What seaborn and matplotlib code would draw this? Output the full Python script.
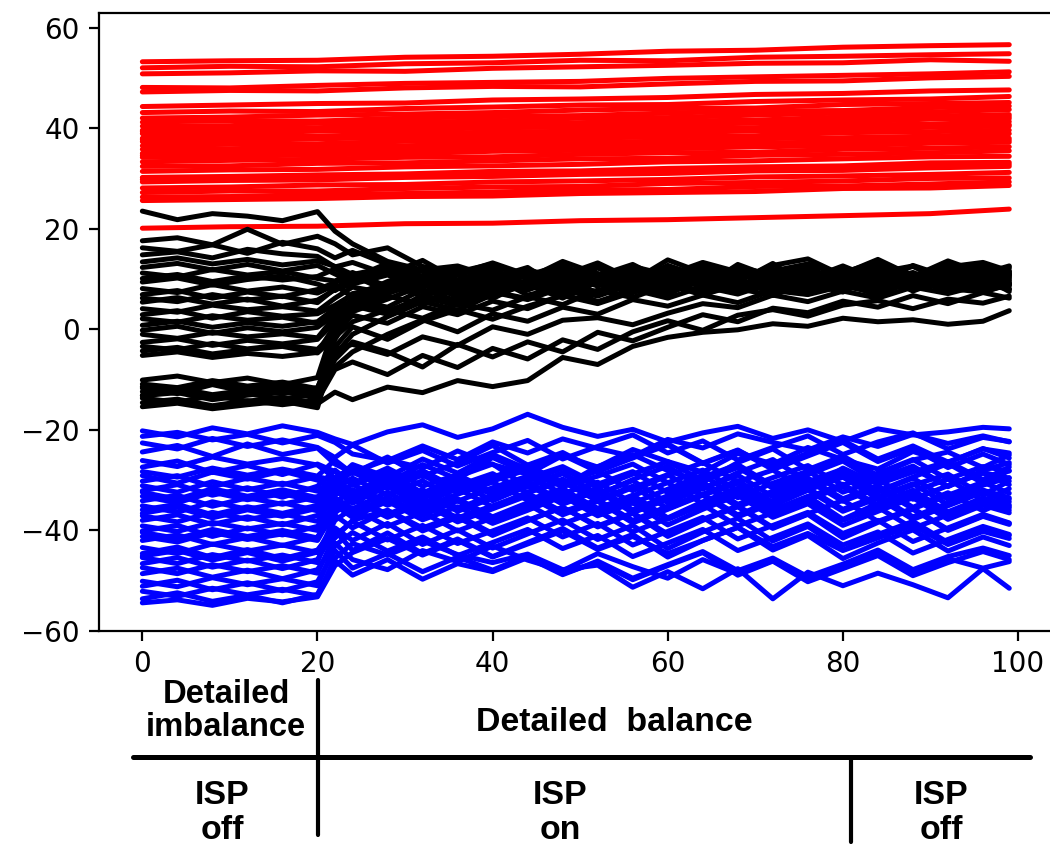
import matplotlib
matplotlib.use("Agg")
import matplotlib.pyplot as plt
from matplotlib.lines import Line2D
import pandas as pd
import seaborn as sns

# =============================================================================
# DATOS
# =============================================================================
X_RED = [0, 10, 20, 30, 40, 50, 60, 70, 80, 90, 99]
# rejilla de pasos para las trazas negras y azules (0-20 ISP off, luego ISP on)
X_TRACE = [0, 4, 8, 12, 16, 20, 22, 24, 28, 32, 36, 40, 44, 48, 52, 56, 60,
           64, 68, 72, 76, 80, 84, 88, 92, 96, 99]

RED = [
    [53.2, 53.4, 53.5, 54.1, 54.3, 54.7, 55.3, 55.5, 56.1, 56.4, 56.6],
    [52.0, 52.3, 52.2, 52.8, 53.0, 53.5, 53.4, 54.1, 54.3, 54.6, 54.8],
    [50.8, 51.0, 51.4, 51.3, 51.9, 52.2, 52.5, 52.9, 53.0, 53.6, 53.3],
    [48.1, 48.0, 48.5, 48.9, 49.1, 49.3, 49.9, 50.2, 50.5, 50.8, 51.2],
    [47.2, 47.5, 47.4, 48.0, 48.3, 48.2, 48.8, 49.3, 49.4, 50.0, 50.3],
    [44.3, 44.6, 44.9, 45.0, 45.6, 45.8, 46.1, 46.7, 46.9, 47.4, 47.6],
    [43.1, 43.4, 43.3, 43.9, 44.2, 44.6, 44.7, 45.3, 45.6, 45.8, 46.3],
    [42.0, 42.2, 42.6, 42.8, 43.1, 43.6, 43.9, 44.0, 44.7, 44.9, 45.1],
    [41.2, 41.5, 41.4, 42.0, 42.3, 42.5, 43.0, 43.4, 43.5, 44.1, 44.4],
    [40.4, 40.5, 41.0, 41.2, 41.4, 42.0, 42.1, 42.6, 43.0, 43.2, 43.7],
    [39.6, 39.9, 40.1, 40.5, 40.7, 41.1, 41.4, 41.6, 42.2, 42.4, 42.7],
    [39.3, 39.5, 39.8, 40.2, 40.3, 40.8, 41.1, 41.3, 41.8, 42.1, 42.3],
    [38.9, 39.0, 39.4, 39.6, 40.1, 40.2, 40.7, 41.0, 41.2, 41.8, 41.9],
    [38.0, 38.3, 38.4, 38.9, 39.2, 39.4, 39.9, 40.1, 40.6, 40.8, 41.3],
    [37.7, 37.9, 38.2, 38.4, 38.9, 39.0, 39.5, 39.8, 40.0, 40.5, 40.7],
    [37.3, 37.4, 37.9, 38.1, 38.3, 38.8, 39.0, 39.5, 39.6, 40.2, 40.4],
    [36.5, 36.8, 36.9, 37.4, 37.6, 38.0, 38.3, 38.5, 39.1, 39.3, 39.6],
    [35.8, 35.9, 36.3, 36.5, 36.9, 37.2, 37.4, 37.9, 38.1, 38.4, 38.9],
    [35.0, 35.3, 35.4, 35.9, 36.1, 36.4, 36.8, 37.0, 37.3, 37.8, 38.0],
    [34.6, 34.8, 35.1, 35.4, 35.6, 36.1, 36.3, 36.6, 37.1, 37.3, 37.6],
    [34.2, 34.4, 34.7, 34.9, 35.4, 35.6, 35.9, 36.3, 36.5, 37.0, 37.2],
    [33.3, 33.6, 33.8, 34.2, 34.3, 34.8, 35.1, 35.2, 35.8, 36.0, 36.3],
    [32.4, 32.5, 33.0, 33.1, 33.5, 33.9, 34.0, 34.6, 34.8, 35.1, 35.5],
    [31.4, 31.7, 31.8, 32.3, 32.5, 32.8, 33.3, 33.5, 33.9, 34.3, 34.4],
    [30.2, 30.4, 30.7, 30.9, 31.4, 31.5, 32.0, 32.3, 32.5, 33.1, 33.2],
    [29.8, 30.0, 30.3, 30.6, 30.8, 31.2, 31.5, 31.7, 32.2, 32.4, 32.8],
    [29.3, 29.6, 29.7, 30.2, 30.4, 30.8, 31.0, 31.5, 31.6, 32.1, 32.4],
    [28.1, 28.3, 28.7, 28.8, 29.3, 29.5, 29.8, 30.3, 30.5, 30.8, 31.2],
    [27.2, 27.5, 27.5, 28.0, 28.3, 28.4, 29.0, 29.2, 29.5, 30.0, 30.1],
    [26.3, 26.4, 26.8, 27.0, 27.3, 27.7, 27.8, 28.4, 28.5, 28.9, 29.3],
    [25.6, 25.8, 26.0, 26.4, 26.5, 27.0, 27.2, 27.4, 28.0, 28.1, 28.6],
    [20.1, 20.4, 20.5, 21.0, 21.1, 21.6, 21.8, 22.2, 22.6, 23.0, 23.9],
]

BLACK = [
    [23.5, 21.8, 23.0, 22.5, 21.6, 23.4, 19.5, 17.0, 13.5, 11.8, 12.6, 10.4, 11.9, 9.8, 12.2, 10.6, 11.5, 9.9, 12.4, 10.8, 11.1, 9.5, 12.0, 10.3, 11.4, 9.8, 11.2],
    [17.6, 18.2, 16.8, 19.9, 16.9, 18.5, 17.0, 14.8, 16.2, 12.5, 11.0, 13.2, 10.8, 12.7, 9.6, 11.8, 10.2, 12.9, 10.5, 11.6, 13.0, 10.9, 12.3, 9.7, 11.5, 12.8, 10.6],
    [16.2, 15.5, 16.8, 15.1, 17.3, 16.0, 14.2, 15.7, 12.9, 10.5, 12.1, 9.4, 11.3, 10.7, 8.8, 12.0, 9.7, 11.2, 8.9, 10.4, 9.2, 11.9, 10.0, 8.7, 10.9, 9.5, 10.2],
    [14.8, 15.4, 14.2, 15.9, 15.0, 14.5, 12.4, 13.3, 10.9, 13.7, 9.8, 11.6, 8.9, 12.4, 10.3, 9.1, 12.7, 10.4, 11.8, 9.0, 12.2, 8.6, 11.3, 12.6, 9.4, 11.0, 12.1],
    [13.4, 14.2, 13.0, 13.9, 12.8, 13.6, 12.5, 10.9, 12.3, 9.6, 11.4, 13.0, 10.5, 11.8, 9.3, 12.5, 10.8, 13.3, 11.4, 9.9, 12.8, 11.0, 13.9, 10.6, 12.4, 13.3, 11.6],
    [12.3, 13.1, 11.8, 12.9, 11.6, 12.7, 11.0, 9.4, 12.0, 8.7, 10.8, 7.9, 11.1, 9.5, 12.3, 8.4, 10.1, 11.7, 8.2, 10.9, 9.6, 12.4, 8.8, 10.5, 11.8, 8.1, 9.7],
    [11.2, 10.4, 11.9, 10.8, 11.5, 10.1, 9.6, 11.3, 8.5, 10.6, 12.4, 9.2, 7.8, 10.9, 8.6, 11.4, 9.3, 7.5, 10.7, 12.0, 8.3, 9.9, 11.1, 7.6, 10.2, 12.2, 8.9],
    [10.1, 10.9, 9.5, 10.6, 9.8, 10.5, 12.0, 10.2, 13.1, 11.5, 9.3, 12.8, 10.1, 13.5, 11.0, 9.6, 13.8, 11.2, 9.8, 12.7, 14.0, 10.7, 12.9, 10.5, 13.6, 11.1, 12.6],
    [9.4, 10.2, 8.8, 9.9, 10.6, 9.0, 7.7, 9.8, 11.2, 7.4, 9.6, 12.1, 8.7, 10.4, 7.2, 9.8, 11.5, 8.6, 10.0, 7.1, 11.2, 9.1, 7.9, 10.6, 8.4, 11.6, 9.2],
    [8.1, 7.3, 8.9, 7.6, 8.4, 7.2, 8.8, 6.4, 9.5, 11.7, 8.0, 10.2, 12.3, 7.8, 9.9, 8.5, 12.6, 9.6, 8.1, 11.4, 9.0, 7.4, 10.8, 12.5, 9.3, 7.8, 10.6],
    [6.9, 7.7, 6.2, 7.4, 6.5, 7.9, 9.3, 10.7, 7.6, 9.1, 6.8, 8.8, 10.9, 7.0, 11.1, 8.2, 6.9, 10.5, 12.2, 8.0, 10.3, 11.8, 7.3, 9.2, 12.8, 10.4, 7.5],
    [6.2, 5.5, 6.9, 5.8, 6.6, 5.3, 8.1, 10.4, 8.7, 12.1, 9.5, 11.2, 8.3, 10.7, 13.2, 9.9, 11.6, 8.4, 12.9, 10.3, 8.0, 11.3, 13.4, 10.1, 8.7, 12.5, 11.0],
    [5.4, 6.3, 5.0, 6.0, 4.6, 5.8, 7.9, 9.0, 10.8, 8.3, 11.5, 7.4, 9.3, 11.8, 8.7, 10.3, 7.8, 11.6, 9.4, 13.1, 8.5, 10.6, 12.9, 8.9, 10.1, 13.0, 11.4],
    [4.1, 3.4, 4.8, 3.9, 4.5, 3.6, 6.2, 8.4, 7.1, 9.6, 8.2, 11.0, 7.9, 9.8, 12.3, 9.0, 10.8, 8.3, 11.4, 7.9, 10.6, 12.2, 9.5, 11.3, 8.6, 10.0, 12.4],
    [2.9, 3.7, 2.2, 3.5, 2.6, 3.1, 4.8, 6.9, 9.2, 6.5, 8.9, 10.4, 6.8, 8.4, 10.6, 7.3, 9.6, 12.1, 8.8, 10.3, 7.7, 9.4, 11.7, 7.9, 10.5, 8.7, 9.9],
    [2.1, 1.4, 2.7, 1.8, 2.4, 1.2, 3.5, 5.8, 4.4, 7.9, 5.6, 8.2, 9.6, 7.0, 9.4, 11.1, 8.0, 10.2, 7.4, 9.9, 11.5, 8.3, 10.7, 9.0, 12.0, 8.4, 10.9],
    [0.8, 1.6, 0.4, 1.3, 0.6, 1.5, 4.2, 7.1, 8.5, 10.3, 7.2, 9.4, 11.0, 8.6, 7.5, 10.4, 12.2, 9.1, 11.3, 8.7, 10.0, 12.6, 9.8, 7.9, 10.9, 11.8, 9.1],
    [-0.2, 0.6, -0.8, 0.3, -0.5, 0.4, 3.0, 5.2, 3.6, 6.3, 4.8, 7.4, 5.9, 8.3, 6.6, 9.0, 7.1, 9.8, 8.1, 6.7, 9.4, 7.8, 10.5, 8.0, 9.2, 7.4, 9.0],
    [-1.0, -1.8, -0.6, -1.5, -0.9, -1.7, 2.6, 6.0, 7.9, 9.5, 6.4, 8.8, 10.7, 7.6, 9.3, 12.0, 8.9, 10.2, 7.3, 11.4, 9.7, 8.2, 11.0, 9.5, 7.8, 10.3, 8.8],
    [-2.6, -1.9, -3.2, -2.2, -2.9, -2.0, 1.5, 4.7, 3.0, 6.8, 4.9, 7.5, 6.1, 8.4, 5.5, 7.8, 9.6, 6.9, 8.8, 10.5, 7.4, 9.3, 6.7, 9.9, 8.6, 10.8, 7.9],
    [-3.4, -4.1, -2.8, -3.9, -3.1, -4.0, -0.5, 2.8, 1.2, 4.5, 2.9, 5.6, 4.1, 6.8, 5.3, 7.9, 6.2, 8.5, 7.0, 9.3, 7.6, 10.1, 8.4, 9.0, 10.6, 8.2, 9.5],
    [-4.3, -3.6, -4.9, -4.0, -3.4, -4.7, -1.5, 1.5, 3.9, 2.2, 5.1, 3.8, 6.5, 4.9, 7.8, 6.3, 8.9, 7.4, 9.8, 8.2, 7.0, 9.6, 8.5, 10.8, 7.7, 9.2, 8.0],
    [-5.2, -4.5, -5.6, -4.8, -5.4, -4.6, 0.8, 4.9, 7.3, 9.0, 6.6, 10.2, 8.1, 11.2, 8.9, 7.3, 10.6, 12.4, 9.2, 7.8, 10.9, 8.7, 12.1, 10.0, 8.3, 11.6, 10.8],
    [-10.1, -9.3, -10.6, -9.7, -11.0, -9.6, 1.0, 5.5, 8.2, 10.1, 7.5, 9.8, 11.3, 8.9, 10.6, 12.9, 9.4, 11.5, 8.6, 10.8, 12.3, 9.2, 11.7, 10.4, 8.9, 12.1, 10.3],
    [-10.9, -11.6, -10.2, -11.3, -10.5, -11.8, -2.0, 3.5, 6.0, 8.7, 10.9, 8.0, 9.7, 12.4, 9.5, 8.2, 10.9, 9.3, 12.0, 8.5, 10.2, 11.9, 9.0, 12.7, 10.4, 9.2, 11.5],
    [-11.4, -12.3, -10.8, -12.0, -11.2, -12.5, -5.0, -1.0, 2.5, 5.5, 3.8, 6.9, 8.8, 6.2, 9.5, 7.7, 10.4, 8.9, 11.6, 9.1, 10.7, 8.5, 11.3, 9.8, 12.2, 10.1, 11.0],
    [-11.7, -12.8, -11.0, -12.5, -11.9, -12.9, 0.0, 4.2, 6.6, 5.0, 8.3, 6.1, 9.5, 7.8, 10.7, 8.3, 11.2, 9.0, 7.6, 10.5, 8.8, 11.8, 9.4, 7.9, 11.0, 9.7, 8.5],
    [-12.4, -11.7, -13.0, -12.1, -12.8, -11.6, -4.0, -3.0, -5.0, -1.5, -3.2, 0.5, -1.0, 1.8, 2.3, 0.9, 3.2, 5.1, 4.3, 6.8, 5.5, 7.6, 6.2, 8.4, 7.1, 8.9, 8.0],
    [-13.1, -12.4, -13.6, -12.8, -13.9, -12.9, -6.0, -2.5, -4.5, -7.5, -3.0, -5.5, -2.5, -4.5, -0.6, -2.3, 0.4, 2.9, 1.5, 4.2, 3.3, 5.6, 4.4, 6.7, 5.1, 7.3, 6.2],
    [-13.2, -12.6, -14.0, -13.1, -12.4, -13.7, -7.5, -4.5, -1.0, 1.9, -0.5, 3.1, 1.6, 4.4, 3.0, 5.9, 4.6, 6.8, 5.3, 7.7, 6.9, 8.6, 7.2, 9.5, 8.1, 7.4, 8.9],
    [-13.7, -14.5, -13.2, -14.3, -13.5, -14.8, -12.5, -14.0, -11.5, -12.6, -10.2, -11.4, -10.2, -5.6, -7.0, -3.4, -1.6, -0.6, -0.1, 1.1, 0.6, 2.2, 1.5, 1.9, 1.0, 1.6, 3.7],
    [-14.6, -13.9, -15.2, -14.2, -15.0, -14.1, -8.0, -6.5, -9.0, -5.2, -7.6, -3.8, -5.9, -2.1, -4.0, -0.5, 1.7, -0.2, 2.8, 3.9, 2.6, 4.8, 5.7, 4.1, 6.0, 5.2, 6.6],
    [-15.4, -14.7, -15.8, -15.0, -14.3, -15.6, -3.5, 0.5, -2.0, 1.6, 3.9, 2.0, 4.6, 6.7, 5.1, 7.4, 8.9, 6.8, 9.3, 7.5, 10.0, 8.4, 9.6, 11.1, 8.3, 10.2, 9.1],
]

BLUE = [
    [-20.2, -21.4, -19.6, -20.8, -19.2, -20.5, -21.8, -22.9, -20.4, -19.0, -21.5, -19.8, -16.9, -19.5, -21.3, -19.9, -22.4, -20.6, -19.3, -21.7, -20.0, -22.3, -19.8, -21.0, -20.4, -19.5, -19.8],
    [-21.3, -20.5, -22.0, -20.9, -22.6, -21.1, -22.5, -24.8, -26.1, -23.2, -25.9, -22.4, -24.6, -21.8, -23.7, -25.3, -21.9, -23.6, -20.8, -22.5, -24.0, -21.4, -23.3, -20.9, -22.7, -21.2, -22.4],
    [-22.6, -23.8, -21.7, -23.3, -22.0, -23.5, -25.5, -23.0, -26.6, -24.1, -27.2, -24.5, -22.1, -25.8, -23.3, -21.0, -24.6, -22.2, -26.0, -23.5, -21.2, -24.9, -22.4, -20.6, -23.8, -21.5, -22.3],
    [-24.4, -23.1, -25.3, -22.8, -24.9, -23.6, -26.8, -28.5, -25.9, -27.6, -24.2, -26.9, -28.8, -25.1, -27.4, -23.9, -26.3, -28.4, -24.7, -26.8, -23.5, -25.9, -27.8, -24.3, -26.5, -23.7, -25.6],
    [-26.1, -27.3, -25.4, -26.8, -25.7, -27.0, -29.6, -27.4, -30.5, -26.9, -29.8, -25.5, -28.6, -31.2, -27.3, -24.9, -28.1, -30.4, -26.5, -23.8, -27.9, -25.2, -29.1, -26.0, -24.4, -27.5, -25.0],
    [-27.4, -26.2, -28.5, -27.1, -28.9, -26.8, -28.3, -31.0, -28.2, -32.6, -29.3, -26.8, -31.4, -28.7, -33.0, -29.9, -27.2, -31.8, -28.5, -25.9, -30.3, -27.8, -32.2, -29.4, -26.7, -30.6, -28.1],
    [-28.3, -29.4, -27.6, -29.0, -27.8, -29.2, -26.0, -28.7, -25.4, -29.3, -26.5, -23.1, -27.0, -24.5, -28.1, -25.4, -22.8, -26.6, -24.0, -27.9, -25.2, -22.5, -26.3, -23.7, -27.5, -24.8, -26.9],
    [-29.1, -30.6, -28.4, -29.8, -28.2, -30.0, -31.4, -33.5, -29.8, -32.9, -30.4, -34.1, -31.2, -28.5, -32.8, -30.1, -34.5, -31.6, -29.0, -33.3, -30.7, -28.3, -32.4, -29.6, -33.8, -31.0, -29.5],
    [-30.2, -29.1, -31.3, -29.6, -30.9, -29.3, -30.1, -27.8, -30.9, -28.1, -31.7, -29.4, -27.0, -30.6, -28.2, -32.1, -29.1, -26.5, -30.3, -28.0, -31.9, -27.6, -30.8, -28.4, -26.3, -29.9, -27.4],
    [-31.1, -32.4, -30.3, -31.9, -30.6, -32.2, -29.5, -32.4, -29.8, -33.6, -31.1, -28.7, -32.5, -30.3, -34.2, -31.5, -28.9, -33.0, -30.6, -35.1, -32.0, -29.4, -33.7, -31.0, -28.8, -32.9, -30.2],
    [-32.1, -30.9, -33.0, -31.5, -33.4, -31.2, -28.0, -30.7, -27.6, -31.2, -28.9, -32.4, -29.6, -27.3, -30.8, -28.3, -32.5, -29.4, -26.9, -31.1, -28.6, -25.4, -29.7, -27.2, -31.3, -28.1, -26.5],
    [-32.4, -33.8, -31.7, -33.2, -31.9, -33.5, -30.0, -26.9, -29.4, -25.8, -28.6, -24.9, -27.8, -25.0, -28.3, -25.6, -23.0, -26.7, -24.1, -27.5, -24.6, -22.1, -25.8, -23.2, -26.4, -23.8, -24.6],
    [-33.2, -34.5, -32.4, -33.9, -32.7, -34.3, -31.0, -33.8, -30.2, -34.6, -31.7, -35.3, -32.4, -29.8, -33.9, -31.2, -35.7, -32.8, -30.1, -34.4, -31.5, -29.0, -33.3, -30.7, -34.9, -32.0, -33.5],
    [-34.1, -33.0, -35.2, -33.5, -34.8, -33.3, -30.5, -28.4, -31.7, -29.0, -32.5, -30.2, -27.9, -31.3, -29.2, -26.8, -30.5, -28.0, -32.1, -29.5, -27.1, -31.0, -28.6, -25.9, -29.8, -27.3, -28.2],
    [-35.1, -36.4, -34.3, -35.8, -34.5, -36.1, -32.0, -34.6, -31.2, -35.4, -32.8, -30.4, -34.0, -31.6, -36.2, -33.1, -30.5, -34.7, -31.9, -36.5, -33.4, -30.8, -35.0, -32.3, -29.8, -34.1, -31.7],
    [-35.9, -34.8, -36.9, -35.3, -36.6, -35.0, -31.5, -29.6, -33.0, -30.1, -34.2, -31.5, -29.2, -32.7, -30.4, -34.6, -31.8, -29.0, -33.5, -30.6, -28.2, -32.4, -29.9, -33.8, -31.1, -28.6, -30.9],
    [-36.6, -35.4, -37.5, -35.9, -37.2, -35.6, -30.0, -32.8, -28.9, -33.1, -29.7, -32.9, -30.2, -27.6, -31.5, -28.8, -26.3, -30.1, -27.5, -31.6, -28.9, -26.2, -30.4, -27.8, -31.2, -28.5, -29.6],
    [-37.1, -38.3, -36.4, -37.8, -36.7, -38.2, -33.0, -30.8, -34.5, -31.9, -35.6, -33.0, -30.3, -34.3, -31.5, -35.9, -33.1, -30.4, -34.8, -32.2, -29.6, -33.7, -31.1, -35.4, -32.5, -36.1, -33.8],
    [-38.0, -36.9, -38.8, -37.3, -38.9, -37.0, -33.5, -35.7, -32.4, -36.1, -33.7, -37.3, -34.5, -31.9, -35.6, -33.0, -37.5, -34.3, -31.6, -35.9, -33.2, -37.8, -34.6, -32.0, -36.3, -33.5, -35.2],
    [-39.1, -40.2, -38.4, -39.7, -38.6, -40.0, -34.5, -31.9, -35.0, -32.3, -36.2, -33.6, -30.9, -34.8, -32.1, -36.5, -33.8, -31.0, -35.3, -32.7, -30.1, -34.2, -31.6, -35.7, -33.0, -30.4, -32.6],
    [-40.1, -39.0, -41.2, -39.5, -40.9, -39.2, -35.0, -37.4, -34.2, -37.9, -35.3, -38.6, -36.0, -33.2, -37.1, -34.5, -38.9, -35.8, -33.0, -37.4, -34.7, -39.0, -36.2, -33.5, -37.8, -35.0, -36.5],
    [-40.4, -41.6, -39.8, -41.2, -40.0, -41.5, -34.0, -36.6, -33.4, -37.0, -34.1, -37.9, -35.2, -32.5, -36.4, -33.7, -37.8, -34.9, -32.2, -36.6, -33.9, -31.3, -35.4, -32.8, -36.9, -34.2, -35.5],
    [-41.2, -42.3, -40.4, -41.8, -40.7, -42.0, -36.0, -33.4, -36.8, -34.0, -37.5, -35.1, -32.6, -36.3, -33.9, -38.0, -35.2, -32.8, -36.9, -34.1, -31.6, -35.8, -33.1, -37.3, -34.6, -32.0, -34.9],
    [-42.0, -40.9, -42.8, -41.4, -43.0, -41.3, -37.0, -39.5, -36.0, -40.1, -37.4, -41.0, -38.1, -35.4, -39.3, -36.6, -41.2, -38.0, -35.3, -39.6, -36.8, -41.5, -38.4, -35.8, -40.0, -37.2, -38.8],
    [-43.4, -44.6, -42.7, -44.1, -42.9, -44.4, -38.0, -35.6, -39.2, -36.4, -40.1, -37.5, -34.8, -38.7, -36.1, -40.3, -37.6, -34.9, -39.1, -36.5, -33.8, -38.0, -35.4, -39.6, -36.9, -34.2, -36.0],
    [-44.6, -43.3, -45.4, -43.8, -45.6, -43.9, -39.5, -42.0, -38.6, -42.8, -39.9, -43.5, -40.7, -37.9, -41.8, -39.0, -43.6, -40.3, -37.6, -42.1, -39.2, -43.9, -40.8, -38.2, -42.4, -39.6, -41.0],
    [-45.1, -44.0, -45.9, -44.4, -46.1, -44.3, -41.5, -38.0, -36.0, -39.5, -37.0, -40.6, -38.0, -35.4, -39.1, -36.5, -40.7, -37.8, -35.1, -39.4, -36.7, -34.0, -38.2, -35.6, -39.8, -37.1, -38.6],
    [-45.4, -46.6, -44.8, -46.1, -44.9, -46.4, -36.5, -33.8, -37.4, -34.6, -38.3, -35.7, -33.1, -36.9, -34.2, -38.5, -35.8, -33.0, -37.3, -34.6, -32.0, -36.2, -33.6, -37.8, -35.1, -32.4, -34.3],
    [-46.6, -45.4, -47.3, -45.9, -47.6, -45.8, -40.0, -44.0, -40.5, -44.6, -41.7, -45.2, -42.4, -39.6, -43.5, -40.8, -45.3, -42.0, -39.4, -43.9, -41.0, -45.6, -42.5, -39.9, -44.1, -41.3, -43.0],
    [-47.4, -48.6, -46.8, -48.2, -47.0, -48.5, -41.0, -38.2, -41.9, -39.0, -42.6, -40.1, -37.5, -41.3, -38.6, -42.9, -40.2, -37.4, -41.7, -39.0, -36.4, -40.6, -38.0, -42.2, -39.5, -36.8, -38.5],
    [-48.6, -47.5, -49.3, -47.9, -49.6, -47.8, -42.5, -45.8, -47.8, -44.0, -46.2, -43.1, -45.9, -48.0, -44.6, -47.2, -49.5, -45.8, -48.6, -46.0, -49.8, -47.1, -44.5, -48.3, -45.6, -47.5, -46.2],
    [-50.1, -51.2, -49.4, -50.8, -49.6, -51.0, -43.0, -40.4, -44.1, -41.3, -45.0, -42.4, -39.8, -43.6, -41.0, -45.2, -42.5, -39.8, -44.0, -41.4, -38.7, -42.9, -40.3, -44.5, -41.8, -39.2, -40.8],
    [-51.1, -49.9, -51.8, -50.4, -52.0, -50.2, -44.0, -47.5, -44.6, -48.2, -45.3, -47.9, -45.0, -48.6, -46.3, -49.8, -47.0, -44.4, -48.9, -46.1, -50.2, -47.6, -45.0, -49.0, -46.4, -44.2, -45.8],
    [-52.1, -53.1, -51.5, -52.8, -51.7, -53.0, -45.5, -42.6, -44.9, -42.1, -44.8, -46.4, -44.7, -47.8, -46.9, -51.3, -48.2, -51.6, -47.6, -53.6, -48.3, -51.0, -48.5, -50.8, -53.4, -47.6, -51.5],
    [-53.6, -52.4, -54.1, -52.9, -54.4, -52.7, -46.0, -48.9, -45.8, -49.7, -46.6, -48.2, -45.4, -48.8, -46.1, -49.5, -46.8, -44.2, -48.0, -45.5, -49.2, -46.7, -43.9, -47.8, -45.2, -43.5, -45.0],
    [-54.4, -53.8, -54.9, -53.5, -54.2, -53.2, -47.0, -44.4, -41.6, -44.9, -42.0, -45.3, -42.7, -40.1, -43.8, -41.2, -44.6, -42.0, -39.4, -43.2, -40.6, -44.0, -41.5, -39.0, -42.8, -40.2, -41.6],
]

GROUP_COLORS = {"rojo": "red", "negro": "black", "azul": "blue"}

# =============================================================================
# FUNCIONES
# =============================================================================
def a_formato_largo(curvas, xs, grupo):
    """Pasa una lista de curvas a filas (grupo, curva, x, valor)."""
    filas = []
    for i, curva in enumerate(curvas):
        assert len(curva) == len(xs), (grupo, i, len(curva))
        for x, v in zip(xs, curva):
            filas.append((grupo, f"{grupo}_{i}", x, v))
    return filas


def fig_xy(px, py):
    """Coordenadas de figura a partir de pixeles de la imagen (1050x847)."""
    return px / 1050, 1 - py / 847

# =============================================================================
# SCRIPT
# =============================================================================
filas = (a_formato_largo(RED, X_RED, "rojo")
         + a_formato_largo(BLACK, X_TRACE, "negro")
         + a_formato_largo(BLUE, X_TRACE, "azul"))
df = pd.DataFrame(filas, columns=["grupo", "curva", "x", "valor"])

sns.set_style("ticks", {"axes.edgecolor": "black", "xtick.color": "black",
                        "ytick.color": "black", "text.color": "black"})

fig = plt.figure(figsize=(5.25, 4.235), dpi=200)
ax = fig.add_axes([99 / 1050, 1 - 631 / 847, (1052.6 - 99) / 1050, (631 - 13) / 847])

sns.lineplot(data=df, x="x", y="valor", hue="grupo", units="curva",
             estimator=None, hue_order=["rojo", "negro", "azul"],
             palette=GROUP_COLORS, legend=False, linewidth=1.8, ax=ax)

ax.set_xlim(-4.95, 103.95)
ax.set_ylim(-60, 62.9)
ax.set_xticks([0, 20, 40, 60, 80, 100])
ax.set_yticks([-60, -40, -20, 0, 20, 40, 60])
ax.set_xlabel("")
ax.set_ylabel("")

# Anotaciones de las fases debajo del eje
txt = dict(family=["Liberation Sans", "DejaVu Sans"], fontsize=12.2,
           fontweight="bold", ha="center", va="center", linespacing=1.18)
fig.text(*fig_xy(226, 711), "Detailed\nimbalance", **{**txt, "fontsize": 11.8,
                                                      "linespacing": 1.12})
fig.text(*fig_xy(614, 722), "Detailed  balance", **txt)
fig.text(*fig_xy(222, 813), "ISP\noff", **txt)
fig.text(*fig_xy(560, 813), "ISP\non", **txt)
fig.text(*fig_xy(941, 813), "ISP\noff", **txt)

x0, y0 = fig_xy(133, 757)
x1, _ = fig_xy(1030, 757)
fig.add_artist(Line2D([x0, x1], [y0, y0], color="black", lw=1.8))
xa, ya = fig_xy(318, 680)
_, yb = fig_xy(318, 835)
fig.add_artist(Line2D([xa, xa], [ya, yb], color="black", lw=1.5))
xc, yc = fig_xy(851, 757)
_, yd = fig_xy(851, 842)
fig.add_artist(Line2D([xc, xc], [yc, yd], color="black", lw=1.5))

fig.savefig("out.png", dpi=200)
